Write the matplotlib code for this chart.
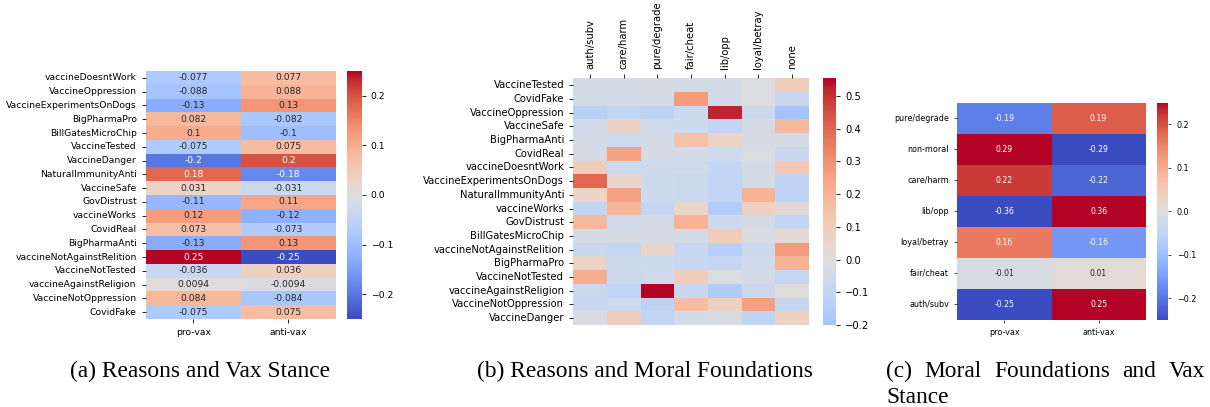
import numpy as np
import pandas as pd
import matplotlib
matplotlib.use("Agg")
import matplotlib.pyplot as plt
import seaborn as sns

# (a) reasons vs vax stance
reasons_a = ["vaccineDoesntWork", "VaccineOppression", "VaccineExperimentsOnDogs",
             "BigPharmaPro", "BillGatesMicroChip", "VaccineTested", "VaccineDanger",
             "NaturalImmunityAnti", "VaccineSafe", "GovDistrust", "vaccineWorks",
             "CovidReal", "BigPharmaAnti", "vaccineNotAgainstRelition",
             "VaccineNotTested", "vaccineAgainstReligion", "VaccineNotOppression",
             "CovidFake"]
pro_vax_a = [-0.077, -0.088, -0.13, 0.082, 0.1, -0.075, -0.2, 0.18, 0.031, -0.11,
             0.12, 0.073, -0.13, 0.25, -0.036, 0.0094, 0.084, -0.075]
anti_vax_a = [0.077, 0.088, 0.13, -0.082, -0.1, 0.075, 0.2, -0.18, -0.031, 0.11,
              -0.12, -0.073, 0.13, -0.25, 0.036, -0.0094, -0.084, 0.075]
stance_cols = ["pro-vax", "anti-vax"]

# (b) reasons vs moral foundations
reasons_b = ["VaccineTested", "CovidFake", "VaccineOppression", "VaccineSafe",
             "BigPharmaAnti", "CovidReal", "vaccineDoesntWork",
             "VaccineExperimentsOnDogs", "NaturalImmunityAnti", "vaccineWorks",
             "GovDistrust", "BillGatesMicroChip", "vaccineNotAgainstRelition",
             "BigPharmaPro", "VaccineNotTested", "vaccineAgainstReligion",
             "VaccineNotOppression", "VaccineDanger"]
moral_cols = ["auth/subv", "care/harm", "pure/degrade", "fair/cheat", "lib/opp",
              "loyal/betray", "none"]
auth_subv = [-0.04, -0.04, -0.13, -0.05, -0.04, -0.03, 0.10, 0.40, 0.06, -0.10,
             0.18, -0.03, -0.08, 0.07, 0.22, -0.07, -0.08, -0.02]
care_harm = [-0.04, -0.04, -0.10, 0.08, -0.05, 0.25, -0.06, 0.05, 0.25, 0.19,
             -0.05, -0.03, -0.09, -0.07, -0.07, -0.10, -0.06, 0.10]
pure_degrade = [-0.03, -0.03, -0.12, -0.05, -0.04, -0.03, -0.05, -0.06, -0.06, -0.09,
                -0.04, -0.03, 0.05, -0.06, -0.05, 0.554, -0.12, -0.10]
fair_cheat = [-0.04, 0.27, -0.07, -0.06, 0.15, -0.04, -0.05, -0.07, -0.07, 0.06,
              0.20, -0.04, -0.08, -0.08, 0.10, -0.08, 0.17, -0.04]
lib_opp = [-0.04, -0.04, 0.52, -0.10, 0.07, -0.05, -0.10, -0.10, -0.10, -0.15,
           -0.06, 0.10, -0.14, -0.09, -0.01, -0.16, 0.09, -0.02]
loyal_betray = [-0.01, -0.01, -0.07, -0.03, -0.03, -0.01, -0.04, -0.04, 0.20, 0.08,
                -0.03, -0.02, -0.06, -0.05, -0.04, -0.07, 0.26, -0.11]
none_col = [0.10, -0.08, -0.2, 0.18, -0.03, -0.08, 0.12, -0.11, -0.11, 0.03,
            -0.10, 0.03, 0.27, 0.20, -0.09, 0.01, -0.09, 0.08]

# (c) moral foundations vs vax stance
moral_rows = ["pure/degrade", "non-moral", "care/harm", "lib/opp", "loyal/betray",
              "fair/cheat", "auth/subv"]
pro_vax_c = [-0.19, 0.29, 0.22, -0.36, 0.16, -0.01, -0.25]
anti_vax_c = [0.19, -0.29, -0.22, 0.36, -0.16, 0.01, 0.25]

W, H = 1210, 407
fig = plt.figure(figsize=(W / 100, H / 100), dpi=100)


def px_axes(x0, y0, x1, y1):
    # pixel box (top-left origin) -> figure axes
    return fig.add_axes([x0 / W, (H - y1) / H, (x1 - x0) / W, (y1 - y0) / H])


# panel a
df_a = pd.DataFrame({"pro-vax": pro_vax_a, "anti-vax": anti_vax_a}, index=reasons_a)
ax_a = px_axes(145.7, 71, 335.7, 319)
cax_a = px_axes(346.7, 71, 361.7, 319)
sns.heatmap(df_a, ax=ax_a, cbar_ax=cax_a, cmap="coolwarm", annot=True,
            annot_kws={"fontsize": 6.6}, xticklabels=True, yticklabels=True)
ax_a.tick_params(labelsize=6.7, length=3, width=0.6)
ax_a.tick_params(axis="y", labelrotation=0)
cax_a.tick_params(labelsize=6.7, length=3, width=0.6)

# panel b
df_b = pd.DataFrame(dict(zip(moral_cols, [auth_subv, care_harm, pure_degrade,
                                          fair_cheat, lib_opp, loyal_betray,
                                          none_col])), index=reasons_b)
ax_b = px_axes(573.3, 78.3, 809, 325)
cax_b = px_axes(823.3, 78.3, 836, 325)
sns.heatmap(df_b, ax=ax_b, cbar_ax=cax_b, cmap="coolwarm", center=0,
            xticklabels=True, yticklabels=True)
ax_b.xaxis.tick_top()
ax_b.tick_params(labelsize=7.2, length=3, width=0.6)
ax_b.tick_params(axis="x", labelrotation=90)
ax_b.tick_params(axis="y", labelrotation=0)
cax_b.set_yticks([-0.2, -0.1, 0.0, 0.1, 0.2, 0.3, 0.4, 0.5])
cax_b.tick_params(labelsize=7.2, length=3, width=0.6)

# panel c
df_c = pd.DataFrame({"pro-vax": pro_vax_c, "anti-vax": anti_vax_c}, index=moral_rows)
ax_c = px_axes(957.3, 102.7, 1145.7, 320)
cax_c = px_axes(1156.7, 102.7, 1168.3, 320)
sns.heatmap(df_c, ax=ax_c, cbar_ax=cax_c, cmap="coolwarm", vmin=-0.25, vmax=0.25,
            annot=True, annot_kws={"fontsize": 5.6}, xticklabels=True, yticklabels=True)
ax_c.tick_params(labelsize=5.8, length=2.5, width=0.5)
ax_c.tick_params(axis="y", labelrotation=0)
cax_c.tick_params(labelsize=5.8, length=2.5, width=0.5)

# captions
cap_font = dict(family="Liberation Serif", fontsize=16.8, va="baseline")
fig.text(200.5 / W, (H - 377) / H, "(a) Reasons and Vax Stance", ha="center", **cap_font)
fig.text(645 / W, (H - 377) / H, "(b) Reasons and Moral Foundations", ha="center", **cap_font)

# (c) caption: justified first line
words = ["(c)", "Moral", "Foundations", "and", "Vax"]
x_left, x_right = 886, 1205
objs = [fig.text(0, (H - 377) / H, w, ha="left", **cap_font) for w in words]
fig.canvas.draw()
r = fig.canvas.get_renderer()
widths = [t.get_window_extent(r).width for t in objs]
gap = (x_right - x_left - sum(widths)) / (len(words) - 1)
x = x_left
for t, wd in zip(objs, widths):
    t.set_x(x / W)
    x += wd + gap
fig.text(x_left / W, (H - 403) / H, "Stance", ha="left", **cap_font)

fig.savefig("out.png", dpi=100)
